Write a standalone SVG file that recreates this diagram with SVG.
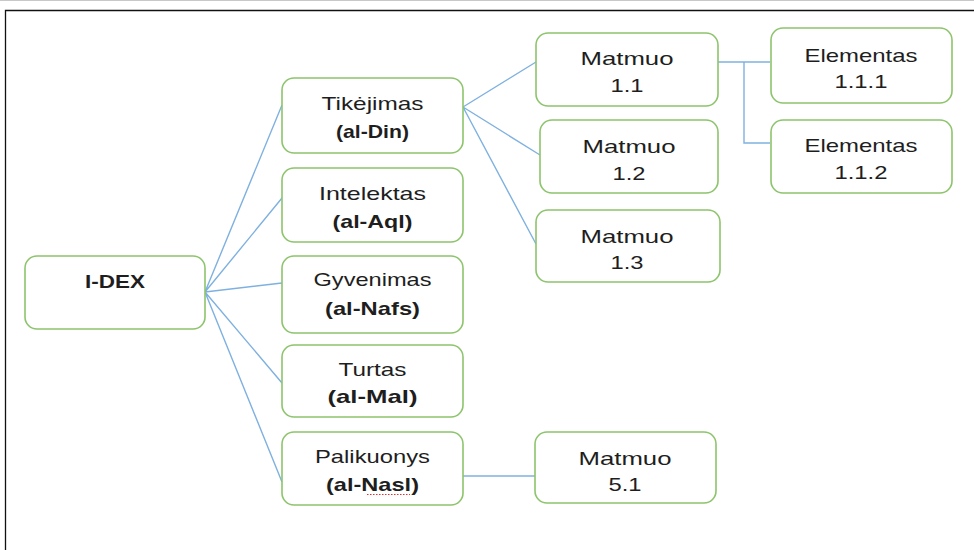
<svg xmlns="http://www.w3.org/2000/svg" width="974" height="550" viewBox="0 0 974 550">
<style>
.box{fill:#fff;stroke:#8dc46c;stroke-width:1.6}
.t{font-family:"Liberation Sans",Arial,sans-serif;font-size:18.5px;fill:#1e1e1e;text-anchor:middle}
.b{font-weight:bold}
.c{fill:none;stroke:#7fb1e0;stroke-width:1.4}
</style>
<rect width="974" height="550" fill="#fff"/>
<line x1="0" y1="0.5" x2="974" y2="0.5" stroke="#c8c8c8" stroke-width="1"/>
<path d="M5.5 550 V10.5 H974" fill="none" stroke="#111" stroke-width="1.3"/>
<g id="connectors">
<path class="c" d="M205 292 L282 105 M205 292 L282 198 M205 292 L282 283 M205 292 L282 383 M205 292 L282 482"/>
<path class="c" d="M463 107 L536 62 M463 107 L540 155 M463 107 L536 244"/>
<path class="c" d="M718 62 H770 M744 62 V143 H770"/>
<path class="c" d="M463 476 H535"/>
</g>
<g id="idex"><rect class="box" x="25" y="256" width="180" height="73" rx="12"/><text class="t b" x="115" y="288" textLength="60" lengthAdjust="spacingAndGlyphs">I-DEX</text></g>
<g id="tikejimas"><rect class="box" x="282" y="78" width="181" height="75" rx="12"/><text class="t" x="372.5" y="110" textLength="102" lengthAdjust="spacingAndGlyphs">Tikėjimas</text><text class="t b" x="372.5" y="138" textLength="73" lengthAdjust="spacingAndGlyphs">(al-Din)</text></g>
<g id="intelektas"><rect class="box" x="282" y="168" width="181" height="74" rx="12"/><text class="t" x="372.5" y="200" textLength="107" lengthAdjust="spacingAndGlyphs">Intelektas</text><text class="t b" x="372.5" y="228" textLength="80" lengthAdjust="spacingAndGlyphs">(al-Aql)</text></g>
<g id="gyvenimas"><rect class="box" x="282" y="256" width="181" height="77" rx="12"/><text class="t" x="372.5" y="286" textLength="118" lengthAdjust="spacingAndGlyphs">Gyvenimas</text><text class="t b" x="372.5" y="315" textLength="95" lengthAdjust="spacingAndGlyphs">(al-Nafs)</text></g>
<g id="turtas"><rect class="box" x="282" y="345" width="181" height="72" rx="12"/><text class="t" x="372.5" y="376" textLength="68" lengthAdjust="spacingAndGlyphs">Turtas</text><text class="t b" x="372.5" y="403" textLength="90" lengthAdjust="spacingAndGlyphs">(al-Mal)</text></g>
<g id="palikuonys"><rect class="box" x="282" y="432" width="181" height="73" rx="12"/><text class="t" x="372.5" y="463" textLength="115" lengthAdjust="spacingAndGlyphs">Palikuonys</text><text class="t b" x="372.5" y="491" textLength="93" lengthAdjust="spacingAndGlyphs">(al-Nasl)</text><line x1="367" y1="494.5" x2="410" y2="494.5" stroke="#e03030" stroke-width="1" stroke-dasharray="1.5 1.5"/></g>
<g id="matmuo11"><rect class="box" x="536" y="33" width="182" height="73" rx="12"/><text class="t" x="627" y="65" textLength="93" lengthAdjust="spacingAndGlyphs">Matmuo</text><text class="t" x="627" y="92" textLength="33" lengthAdjust="spacingAndGlyphs">1.1</text></g>
<g id="matmuo12"><rect class="box" x="540" y="120" width="178" height="73" rx="12"/><text class="t" x="629" y="153" textLength="93" lengthAdjust="spacingAndGlyphs">Matmuo</text><text class="t" x="629" y="180" textLength="33" lengthAdjust="spacingAndGlyphs">1.2</text></g>
<g id="matmuo13"><rect class="box" x="536" y="210" width="184" height="72" rx="12"/><text class="t" x="627" y="243" textLength="93" lengthAdjust="spacingAndGlyphs">Matmuo</text><text class="t" x="627" y="269" textLength="33" lengthAdjust="spacingAndGlyphs">1.3</text></g>
<g id="elementas111"><rect class="box" x="771" y="28" width="181" height="75" rx="12"/><text class="t" x="861" y="62" textLength="113" lengthAdjust="spacingAndGlyphs">Elementas</text><text class="t" x="861" y="88" textLength="53" lengthAdjust="spacingAndGlyphs">1.1.1</text></g>
<g id="elementas112"><rect class="box" x="771" y="120" width="181" height="73" rx="12"/><text class="t" x="861" y="152" textLength="113" lengthAdjust="spacingAndGlyphs">Elementas</text><text class="t" x="861" y="179" textLength="53" lengthAdjust="spacingAndGlyphs">1.1.2</text></g>
<g id="matmuo51"><rect class="box" x="535" y="432" width="181" height="71" rx="12"/><text class="t" x="625" y="465" textLength="93" lengthAdjust="spacingAndGlyphs">Matmuo</text><text class="t" x="625" y="491" textLength="33" lengthAdjust="spacingAndGlyphs">5.1</text></g>
</svg>
